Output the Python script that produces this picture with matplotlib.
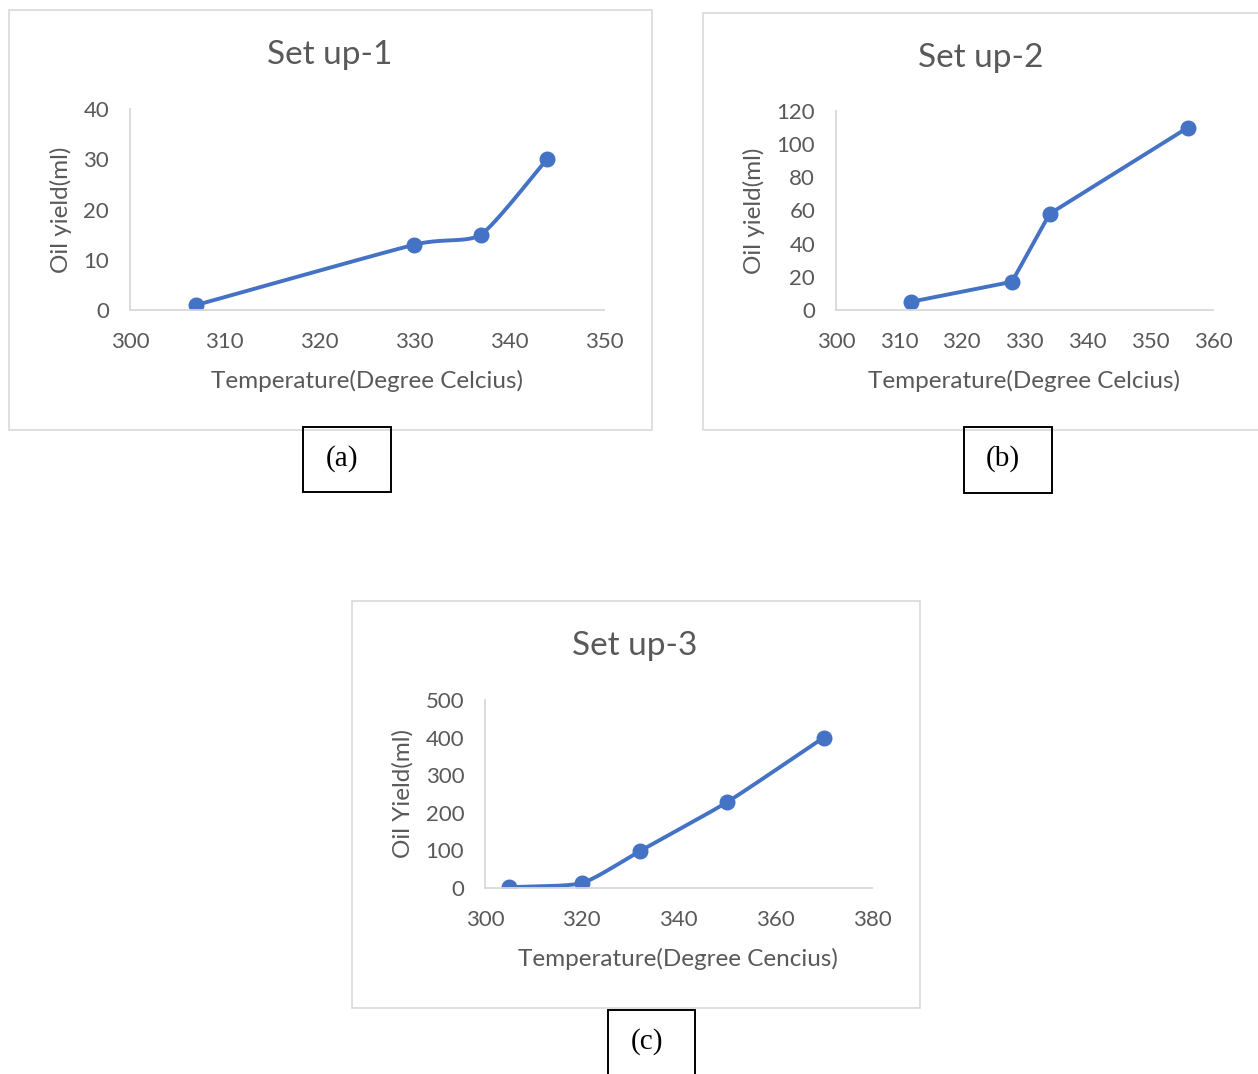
import numpy as np
import matplotlib.pyplot as plt
from matplotlib.patches import Rectangle

# ---------------- data ----------------
temp1 = [307, 330, 337, 344]
oil1 = [1, 13, 15, 30]

temp2 = [312, 328, 334, 356]
oil2 = [5, 17, 58, 110]

temp3 = [305, 320, 332, 350, 370]
oil3 = [2, 13, 98, 228, 400]

W, H = 1258, 1074
BLUE = '#4472C4'
GREY_TXT = '#595959'
GRID = '#d9d9d9'
FONT = 'Lato'

fig = plt.figure(figsize=(W / 100, H / 100), dpi=100)


def fx(x):
    return x / W


def fy(y):
    return 1 - y / H


def smooth(x, y, n=40, k=0.6):
    # cubic Hermite curve through the points with damped Catmull-Rom tangents
    x = np.asarray(x, float)
    y = np.asarray(y, float)
    px = np.concatenate([[2 * x[0] - x[1]], x, [2 * x[-1] - x[-2]]])
    py = np.concatenate([[2 * y[0] - y[1]], y, [2 * y[-1] - y[-2]]])
    t = np.linspace(0, 1, n)
    h00 = 2 * t ** 3 - 3 * t ** 2 + 1
    h10 = t ** 3 - 2 * t ** 2 + t
    h01 = -2 * t ** 3 + 3 * t ** 2
    h11 = t ** 3 - t ** 2
    xs, ys = [], []
    for i in range(1, len(px) - 2):
        for p, out in ((px, xs), (py, ys)):
            m1 = k * 0.5 * (p[i + 1] - p[i - 1])
            m2 = k * 0.5 * (p[i + 2] - p[i])
            out.extend(h00 * p[i] + h10 * m1 + h01 * p[i + 1] + h11 * m2)
    return xs, ys


def frame(x0, y0, x1, y1, color, lw):
    fig.patches.append(Rectangle((fx(x0), fy(y1)), fx(x1 - x0), fy(y0) - fy(y1),
                                 transform=fig.transFigure, fill=False,
                                 edgecolor=color, linewidth=lw))


def panel(box, area, temp, oil, xlim, xstep, ylim, ystep, title, title_xy,
          ylabel, ylabel_xy, xlabel, xlabel_xy, curved):
    frame(*box, GRID, 1.2)
    l, t, r, b = area
    ax = fig.add_axes([fx(l), fy(b), fx(r - l), fy(t) - fy(b)])
    if curved:
        sx, sy = smooth(temp, oil)
        ax.plot(sx, sy, color=BLUE, lw=2.8, solid_capstyle='round')
        ax.plot(temp, oil, 'o', color=BLUE, ms=10.5)
    else:
        ax.plot(temp, oil, '-o', color=BLUE, lw=2.8, ms=10.5)
    ax.set_xlim(*xlim)
    ax.set_ylim(*ylim)
    ax.set_xticks(np.arange(xlim[0], xlim[1] + 1, xstep))
    ax.set_yticks(np.arange(ylim[0], ylim[1] + 1, ystep))
    for s in ('top', 'right'):
        ax.spines[s].set_visible(False)
    for s in ('left', 'bottom'):
        ax.spines[s].set_color(GRID)
        ax.spines[s].set_linewidth(1.3)
    ax.tick_params(length=0, labelsize=16, colors=GREY_TXT)
    ax.tick_params(axis='x', pad=16)
    ax.tick_params(axis='y', pad=15)
    for lab in ax.get_xticklabels() + ax.get_yticklabels():
        lab.set_family(FONT)
    ax.patch.set_alpha(0)
    fig.text(fx(title_xy[0]), fy(title_xy[1]), title, ha='center', va='center',
             fontsize=24, color=GREY_TXT, family=FONT)
    fig.text(fx(ylabel_xy[0]), fy(ylabel_xy[1]), ylabel, ha='center', va='center',
             rotation=90, fontsize=17.5, color=GREY_TXT, family=FONT)
    fig.text(fx(xlabel_xy[0]), fy(xlabel_xy[1]), xlabel, ha='center', va='center',
             fontsize=17.5, color=GREY_TXT, family=FONT)


panel((9, 10, 652, 430), (130, 109, 604, 310), temp1, oil1, (300, 350), 10, (0, 40), 10,
      'Set up-1', (330, 55), 'Oil yield(ml)', (61, 210),
      'Temperature(Degree Celcius)', (367, 381), True)
panel((703, 13, 1262, 430), (836, 111, 1213, 310), temp2, oil2, (300, 360), 10, (0, 120), 20,
      'Set up-2', (981, 58), 'Oil yield(ml)', (754, 211),
      'Temperature(Degree Celcius)', (1024, 381), False)
panel((352, 601, 920, 1008), (485, 700, 872, 888), temp3, oil3, (300, 380), 20, (0, 500), 100,
      'Set up-3', (635, 646), 'Oil Yield(ml)', (403, 794),
      'Temperature(Degree Cencius)', (678, 959), True)

# sub-figure tags
for (x0, y0, x1, y1), tag in (((303, 427, 391, 492), '(a)'),
                              ((964, 427, 1052, 493), '(b)'),
                              ((608, 1010, 695, 1080), '(c)')):
    frame(x0, y0, x1, y1, 'black', 1.4)
    fig.text(fx((x0 + x1) / 2 - 5), fy(y0 + 32), tag, ha='center', va='center',
             fontsize=21, family='Liberation Serif', color='black')

fig.savefig('out.png', dpi=100)
